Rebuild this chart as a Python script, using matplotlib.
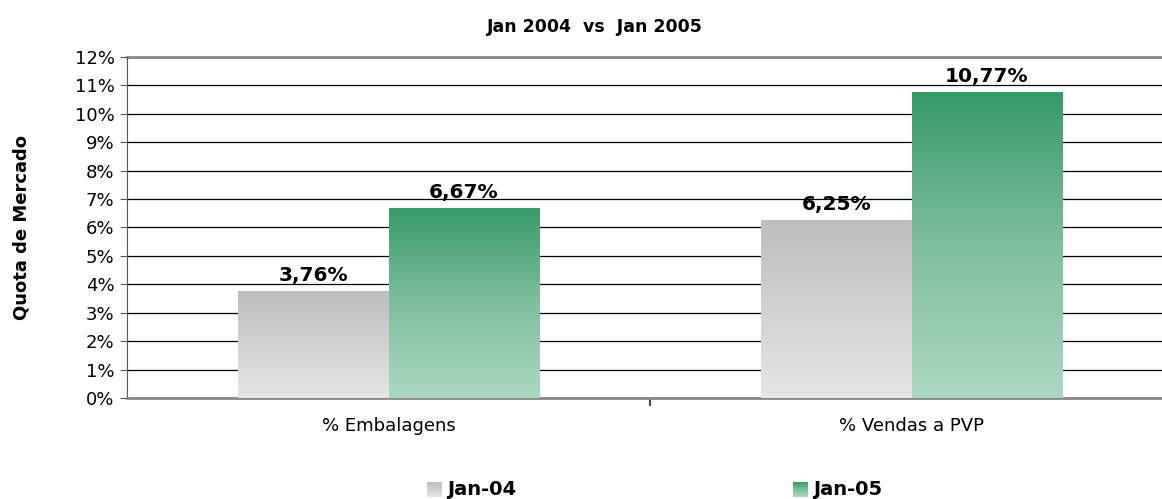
import numpy as np
import matplotlib.pyplot as plt
from matplotlib.colors import LinearSegmentedColormap

categories = ["% Embalagens", "% Vendas a PVP"]
series_names = ["Jan-04", "Jan-05"]
jan04 = [3.76, 6.25]
jan05 = [6.67, 10.77]
yticks = list(range(0, 13))

gray_cmap = LinearSegmentedColormap.from_list("g", ["#e6e6e6", "#bebebe"])
green_cmap = LinearSegmentedColormap.from_list("gr", ["#acd8c3", "#7fbe9e", "#379a69"])

fig = plt.figure(figsize=(11.62, 4.99), dpi=100)
# axes extends past right edge like the original (grid lines clipped by the figure)
ax = fig.add_axes([0.1093, 0.2024, 0.9002, 0.6834])

x = np.arange(len(categories))
w = 0.287
grad = np.linspace(0, 1, 256).reshape(-1, 1)


def gradient_bars(xs, vals, cmap):
    bars = ax.bar(xs, vals, w, color="none", edgecolor="none", zorder=3)
    for b in bars:
        x0, y0 = b.get_x(), b.get_y()
        im = ax.imshow(grad, cmap=cmap, origin="lower", aspect="auto",
                       extent=[x0, x0 + b.get_width(), y0, y0 + b.get_height()],
                       zorder=3)
        im.set_clip_path(b)
    return bars


gradient_bars(x - w / 2, jan04, gray_cmap)
gradient_bars(x + w / 2, jan05, green_cmap)

for xs, vals in [(x - w / 2, jan04), (x + w / 2, jan05)]:
    for xi, v in zip(xs, vals):
        ax.text(xi, v + 0.22, f"{v:.2f}%".replace(".", ","), ha="center", va="bottom",
                fontsize=14.5, fontweight="bold", zorder=4)

ax.set_xlim(-0.5, 1.5)
ax.set_ylim(0, 12)
ax.set_yticks(yticks)
ax.set_yticklabels([f"{t}%" for t in yticks], fontsize=13)
ax.yaxis.grid(True, color="black", linewidth=0.9, zorder=0)
ax.axhline(12, color="#888888", linewidth=2, zorder=1, clip_on=False)
ax.set_axisbelow(True)

ax.set_xticks([0.5])
ax.set_xticklabels([""])
ax.tick_params(axis="x", length=6, width=1.2, color="#222222")
ax.tick_params(axis="y", length=5, color="#555555", pad=4)
for i, c in enumerate(categories):
    ax.text(i, -1.0, c, ha="center", va="center", fontsize=13)

for s in ["top", "right"]:
    ax.spines[s].set_visible(False)
ax.spines["left"].set_color("#555555")
ax.spines["bottom"].set_color("#888888")
ax.spines["bottom"].set_linewidth(2)

ax.set_ylabel("Quota de Mercado", fontsize=13, fontweight="bold", labelpad=32)

fig.text(0.512, 0.945, "Jan 2004  vs  Jan 2005", ha="center", va="center",
         fontsize=12.5, fontweight="bold")

# legend with gradient swatches
legend_pos = [(427 / 1162, gray_cmap), (793 / 1162, green_cmap)]
for (lx, cm), name in zip(legend_pos, series_names):
    sw = fig.add_axes([lx, 2 / 499, 15 / 1162, 15 / 499])
    sw.imshow(grad, cmap=cm, origin="lower", aspect="auto")
    sw.axis("off")
    fig.text(lx + 20 / 1162, 0.02, name, ha="left", va="center", fontsize=14,
             fontweight="bold")

fig.savefig("out.png", dpi=100)
